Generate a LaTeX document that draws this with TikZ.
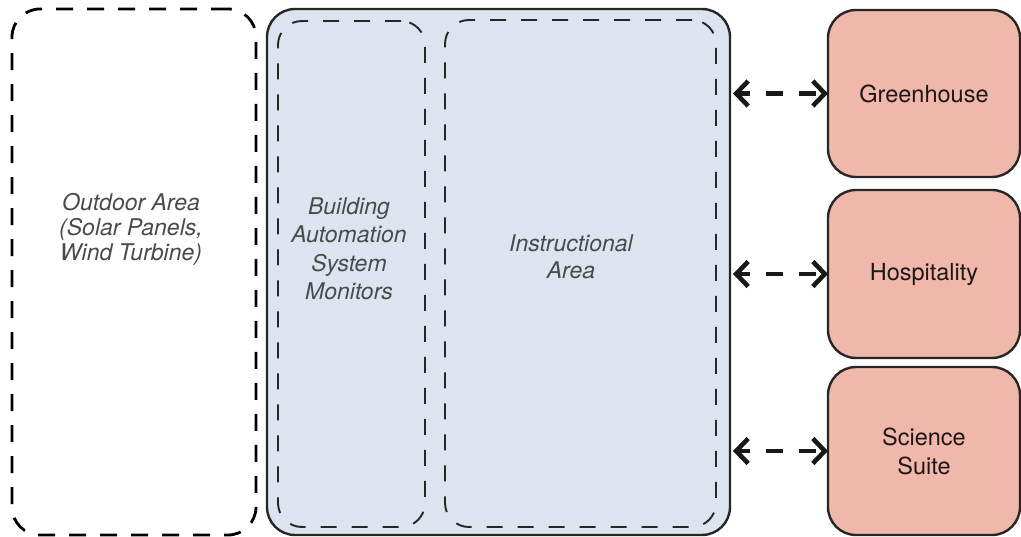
\documentclass[tikz,border=0pt]{standalone}
\usepackage{fontspec}
\setsansfont{TeX Gyre Heros}
\usetikzlibrary{arrows.meta}
\definecolor{zoneblue}{HTML}{DDE4F0}
\definecolor{roompink}{HTML}{F0B8AB}
\definecolor{labelgray}{HTML}{4A4A4A}
\definecolor{inkdark}{HTML}{1E1616}
\begin{document}
\begin{tikzpicture}[x=1pt,y=-1pt,
  areabox/.style={draw=black, rounded corners=28pt, line width=2.8pt,
    dash pattern=on 17pt off 14pt, inner sep=0pt, outer sep=0pt},
  zonebox/.style={draw=black!85, fill=zoneblue, rounded corners=28pt,
    line width=2.4pt, inner sep=0pt, outer sep=0pt},
  subbox/.style={draw=black!85, rounded corners=24pt, line width=1.9pt,
    dash pattern=on 16pt off 15pt, inner sep=0pt, outer sep=0pt},
  roombox/.style={draw=black!85, fill=roompink, rounded corners=28pt,
    line width=2.4pt, inner sep=0pt, outer sep=0pt,
    minimum width=192pt, text=inkdark, align=center,
    font=\sffamily\fontsize{23.5}{29}\selectfont},
  arealabel/.style={align=center, text=labelgray, inner sep=0pt,
    font=\sffamily\itshape\fontsize{23}{25}\selectfont},
  link/.style={line width=4.6pt, draw=black!90, dash pattern=on 17pt off 16pt,
    dash phase=5pt,
    {Straight Barb[length=12pt,width=25pt]}-{Straight Barb[length=12pt,width=25pt]},
    shorten <=3pt}
]
\useasboundingbox (0,0) rectangle (1021,537);

% outdoor zone
\node[areabox, minimum width=244pt, minimum height=526pt] (outdoor) at (134,272) {};
\node[arealabel] (outdoortxt) at (131,229) {Outdoor Area\\(Solar Panels,\\Wind Turbine)};

% main building zone with its two sub-areas
\node[zonebox, minimum width=463pt, minimum height=526pt] (building) at (498.5,272) {};
\node[subbox, minimum width=147pt, minimum height=506pt] (bas) at (351.5,274) {};
\node[subbox, minimum width=271pt, minimum height=507pt] (instr) at (580.5,273.5) {};
\node[arealabel, font=\sffamily\itshape\fontsize{23}{28.5}\selectfont] (bastxt) at (349,249)
  {Building\\Automation\\System\\Monitors};
\node[arealabel, font=\sffamily\itshape\fontsize{23}{27}\selectfont] (instrtxt) at (571,257)
  {Instructional\\Area};

% connected rooms
\node[roombox, minimum height=167pt] (green) at (924,93.5) {Greenhouse};
\node[roombox, minimum height=168pt] (hosp) at (924,274) {Hospitality};
\node[roombox, minimum height=168pt] (sci) at (924,451) {Science\\Suite};

% two-way links
\draw[link] (building.east |- green.west) -- (green.west);
\draw[link] (building.east |- hosp.west) -- (hosp.west);
\draw[link] (building.east |- sci.west) -- (sci.west);
\end{tikzpicture}
\end{document}
